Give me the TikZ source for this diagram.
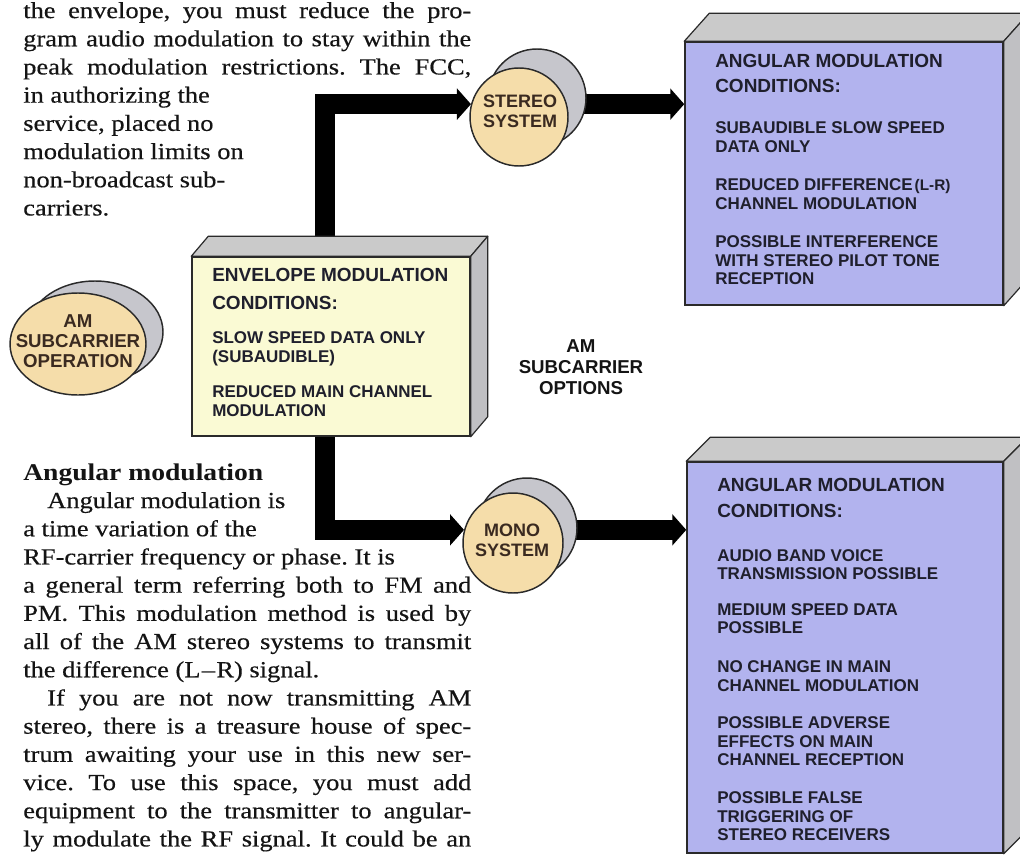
\documentclass[tikz,border=0pt]{standalone}
\usepackage{fontspec}
\setmainfont[FakeStretch=1.15]{Liberation Serif}
\newfontfamily\bodyfont[Ligatures=TeX,FakeStretch=1.15,FakeBold=0.4]{Liberation Serif}
\newfontfamily\diafont{Liberation Sans}
\usetikzlibrary{arrows.meta,calc,shapes.geometric}
\pgfdeclarelayer{bg}
\pgfsetlayers{bg,main}
\definecolor{lav}{HTML}{B2B3EE}
\definecolor{cream}{HTML}{FAFAD4}
\definecolor{peach}{HTML}{F5DDAA}
\definecolor{facegray}{HTML}{CACACA}
\definecolor{sidegray}{HTML}{C0C0C3}
\definecolor{backgray}{HTML}{C6C6CC}
\definecolor{ink}{HTML}{1F1F2C}
\definecolor{cylink}{HTML}{3A2A20}
\definecolor{edge}{HTML}{2A2A2A}
\newcommand\jline[1]{\makebox[336pt][s]{#1}}
\newcommand\boxfaces[3]{%
  \filldraw[face, fill=facegray] (#1.north west) -- ++(#2,#3) -- ($(#1.north east)+(#2,#3)$) -- (#1.north east) -- cycle;
  \filldraw[face, fill=sidegray] (#1.north east) -- ++(#2,#3) -- ($(#1.south east)+(#2,#3)$) -- (#1.south east) -- cycle;}
\tikzset{
  body/.style={anchor=mid west, inner sep=0, text=black!92, font=\bodyfont\frenchspacing\fontsize{17.25pt}{20pt}\selectfont},
  bodyhead/.style={anchor=mid west, inner sep=0, text=black!92, font=\bfseries\fontsize{18pt}{20pt}\selectfont},
  boxhead/.style={anchor=mid west, inner sep=0, text=ink, yshift=-1.1pt, font=\diafont\bfseries\fontsize{14.25pt}{16pt}\selectfont},
  boxitem/.style={anchor=mid west, inner sep=0, text=ink, yshift=-1pt, font=\diafont\bfseries\fontsize{12.75pt}{14pt}\selectfont},
  front/.style={rectangle, draw=edge, line width=1.1pt, inner sep=0},
  face/.style={draw=edge, line width=0.9pt, line join=round},
  cylfront/.style={draw=edge, line width=1.1pt, fill=peach, inner sep=0},
  cylback/.style={draw=edge, line width=1.1pt, fill=backgray, inner sep=0},
  cyltext/.style={align=center, inner sep=0, text=cylink, font=\diafont\bfseries\fontsize{13.5pt}{15pt}\selectfont},
  bigarrow/.style={draw=black, line width=15pt, -{Triangle[length=10.5pt,width=23pt]}},
}
\begin{document}
\begin{tikzpicture}[x=0.75pt,y=-0.75pt]
\useasboundingbox (0,0) rectangle (1020,856);
\begin{pgfonlayer}{bg}
  \fill[white] (0,0) rectangle (1020,856);
\end{pgfonlayer}
\clip (0,0) rectangle (1020,856);

% ---------- body text, upper block ----------
\node[body] (u1) at (23,15)    {\jline{the envelope, you must reduce the pro-}};
\node[body] (u2) at (23,43.2)  {\jline{gram audio modulation to stay within the}};
\node[body] (u3) at (23,71.4)  {\jline{peak modulation restrictions. The FCC,}};
\node[body] (u4) at (23,99.6)  {in authorizing the};
\node[body] (u5) at (23,127.8) {service, placed no};
\node[body] (u6) at (23,156)   {modulation limits on};
\node[body] (u7) at (23,184.2) {non-broadcast sub-};
\node[body] (u8) at (23,212.4) {carriers.};

% ---------- body text, lower block ----------
\node[bodyhead] (l0) at (23,477) {Angular modulation};
\node[body] (l1) at (47,505)    {Angular modulation is};
\node[body] (l2) at (23,533.2)  {a time variation of the};
\node[body] (l3) at (23,561.4)  {RF-carrier frequency or phase. It is};
\node[body] (l4) at (23,589.6)  {\jline{a general term referring both to FM and}};
\node[body] (l5) at (23,617.8)  {\jline{PM. This modulation method is used by}};
\node[body] (l6) at (23,646)    {\jline{all of the AM stereo systems to transmit}};
\node[body] (l7) at (23,674.2)  {the difference (L\kern1pt–\kern1pt R) signal.};
\node[body] (l8) at (47,702.4)  {\makebox[318pt][s]{If you are not now transmitting AM}};
\node[body] (l9) at (23,730.6)  {\jline{stereo, there is a treasure house of spec-}};
\node[body] (l10) at (23,758.8) {\jline{trum awaiting your use in this new ser-}};
\node[body] (l11) at (23,787)   {\jline{vice. To use this space, you must add}};
\node[body] (l12) at (23,815.2) {\jline{equipment to the transmitter to angular-}};
\node[body] (l13) at (23,843.4) {\jline{ly modulate the RF signal. It could be an}};

% ---------- 3D boxes ----------
\node[front, fill=cream, minimum width=208.5pt, minimum height=134.25pt] (env) at (331,346.5) {};
\boxfaces{env}{17}{-20}
\node[front, fill=lav, minimum width=238.5pt, minimum height=197.25pt] (topbox) at (844,173.5) {};
\boxfaces{topbox}{25}{-28}
\node[front, fill=lav, minimum width=237pt, minimum height=293.25pt] (lowbox) at (845,657.5) {};
\boxfaces{lowbox}{24}{-24}

% envelope box text
\node[boxhead] (eh1) at (212,277) {ENVELOPE MODULATION};
\node[boxhead] (eh2) at (212,305) {CONDITIONS:};
\foreach \n/\y/\t in {1/339/SLOW SPEED DATA ONLY, 2/358/{(SUBAUDIBLE)}, 3/393/REDUCED MAIN CHANNEL, 4/412/MODULATION}
  \node[boxitem] (ei\n) at (212,\y) {\t};

% upper right box text
\node[boxhead] (th1) at (715,63) {ANGULAR MODULATION};
\node[boxhead] (th2) at (715,88) {CONDITIONS:};
\foreach \n/\y/\t in {1/129/SUBAUDIBLE SLOW SPEED, 2/148/DATA ONLY,
    3/186/{REDUCED DIFFERENCE\kern1.5pt{\fontsize{11.5pt}{12pt}\selectfont(L-R)}}, 4/205/CHANNEL MODULATION,
    5/243/POSSIBLE INTERFERENCE, 6/262/WITH STEREO PILOT TONE, 7/280/RECEPTION}
  \node[boxitem] (ti\n) at (715,\y) {\t};

% lower right box text
\node[boxhead] (bh1) at (717,487) {ANGULAR MODULATION};
\node[boxhead] (bh2) at (717,513) {CONDITIONS:};
\foreach \n/\y/\t in {1/557/AUDIO BAND VOICE, 2/575/TRANSMISSION POSSIBLE,
    3/611/MEDIUM SPEED DATA, 4/629/POSSIBLE,
    5/668/NO CHANGE IN MAIN, 6/687/CHANNEL MODULATION,
    7/724/POSSIBLE ADVERSE, 8/743/EFFECTS ON MAIN, 9/761/CHANNEL RECEPTION,
    10/799/POSSIBLE FALSE, 11/818/TRIGGERING OF, 12/836/STEREO RECEIVERS}
  \node[boxitem] (bi\n) at (717,\y) {\t};

% ---------- cylinders ----------
\coordinate (amc) at (78,344);
\node[cylback, ellipse, minimum width=102pt, minimum height=76.5pt] (amback) at ($(amc)+(17,-12)$) {};
\node[cylfront, ellipse, minimum width=102pt, minimum height=76.5pt] (am) at (amc) {};
\node[cyltext, font=\diafont\bfseries\fontsize{14pt}{15pt}\selectfont] (amlbl) at ($(amc)+(0,-3)$) {AM\\SUBCARRIER\\OPERATION};

\coordinate (stc) at (519,117);
\node[cylback, circle, minimum size=73.5pt] (stereoback) at ($(stc)+(18,-19)$) {};
\node[cylfront, circle, minimum size=73.5pt] (stereo) at (stc) {};
\node[cyltext] (stereolbl) at ($(stc)+(1,-6)$) {STEREO\\SYSTEM};

\coordinate (moc) at (513,543);
\node[cylback, circle, minimum size=75pt] (monoback) at ($(moc)+(14,-15)$) {};
\node[cylfront, circle, minimum size=75pt] (mono) at (moc) {};
\node[cyltext] (monolbl) at ($(moc)+(-1,-3)$) {MONO\\SYSTEM};

% options label
\node[align=center, inner sep=0, text=black!92, font=\diafont\bfseries\fontsize{14pt}{15.75pt}\selectfont] (opts) at (581,367) {AM\\SUBCARRIER\\OPTIONS};

% ---------- connectors (under everything) ----------
\begin{pgfonlayer}{bg}
  \draw[bigarrow] ($(am.center)+(0,-2)$) -- ($(am.center)+(0,-2)$ -| env.west);
  \draw[bigarrow] ($(env.north)+(-6,0)$) |- (stereo.165);
  \draw[bigarrow] (stereo.center |- stereo.165) -- (stereo.165 -| topbox.west);
  \draw[bigarrow] ($(env.south)+(-6,0)$) |- (mono.165);
  \draw[bigarrow] (mono.center |- mono.165) -- (mono.165 -| lowbox.west);
\end{pgfonlayer}
\end{tikzpicture}
\end{document}
